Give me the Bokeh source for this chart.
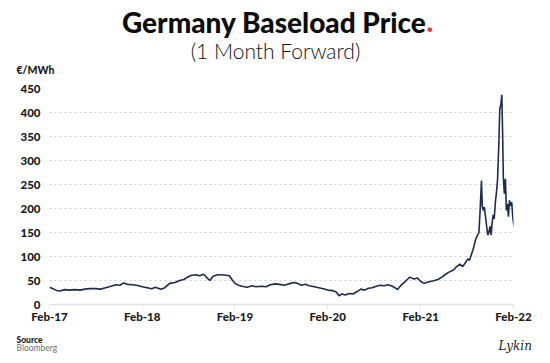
import pandas as pd
from bokeh.plotting import figure
from bokeh.layouts import column
from bokeh.models import FixedTicker, DatetimeTickFormatter, Range1d
from bokeh.core.properties import value
from bokeh.embed import file_html
from bokeh.resources import INLINE

# ---------------- data ----------------
dates = [
    "2017-02-01", "2017-02-15", "2017-03-01", "2017-03-15", "2017-04-01", "2017-04-20",
    "2017-05-10", "2017-06-01", "2017-06-20", "2017-07-10", "2017-08-01", "2017-08-20",
    "2017-09-10", "2017-10-01", "2017-10-20", "2017-11-05", "2017-11-20", "2017-12-05",
    "2017-12-25", "2018-01-10", "2018-02-01", "2018-02-20", "2018-03-10", "2018-03-25",
    "2018-04-15", "2018-05-01", "2018-05-20", "2018-06-10", "2018-06-28", "2018-07-15",
    "2018-08-01", "2018-08-15", "2018-09-01", "2018-09-15", "2018-09-30", "2018-10-15",
    "2018-10-25", "2018-11-07", "2018-11-25", "2018-12-10", "2018-12-28", "2019-01-10",
    "2019-01-20", "2019-02-01", "2019-02-15", "2019-03-01", "2019-03-20", "2019-04-10",
    "2019-04-25", "2019-05-15", "2019-06-03", "2019-06-20", "2019-07-10", "2019-07-25",
    "2019-08-15", "2019-09-01", "2019-09-20", "2019-10-05", "2019-10-20", "2019-11-05",
    "2019-11-20", "2019-12-10", "2019-12-28", "2020-01-15", "2020-02-01", "2020-02-20",
    "2020-03-05", "2020-03-17", "2020-03-28", "2020-04-10", "2020-04-25", "2020-05-10",
    "2020-05-27", "2020-06-10", "2020-06-25", "2020-07-10", "2020-07-25", "2020-08-10",
    "2020-08-25", "2020-09-10", "2020-09-25", "2020-10-12", "2020-10-25", "2020-11-02",
    "2020-11-15", "2020-11-28", "2020-12-10", "2020-12-20", "2021-01-05", "2021-01-19",
    "2021-02-01", "2021-02-15", "2021-03-01", "2021-03-20", "2021-04-10", "2021-04-25",
    "2021-05-10", "2021-05-25", "2021-06-10", "2021-06-20", "2021-07-05", "2021-07-16",
    "2021-07-28", "2021-08-05", "2021-08-12", "2021-08-20", "2021-08-28", "2021-09-05",
    "2021-09-12", "2021-09-18", "2021-09-23", "2021-09-28", "2021-10-01", "2021-10-05",
    "2021-10-09", "2021-10-14", "2021-10-19", "2021-10-23", "2021-10-27", "2021-11-01",
    "2021-11-05", "2021-11-09", "2021-11-13", "2021-11-17", "2021-11-22", "2021-11-26",
    "2021-11-30", "2021-12-05", "2021-12-09", "2021-12-13", "2021-12-17", "2021-12-20",
    "2021-12-23", "2021-12-27", "2021-12-31", "2022-01-04", "2022-01-08", "2022-01-12",
    "2022-01-16", "2022-01-21", "2022-01-25", "2022-01-29", "2022-02-03",
]
prices = [
    36, 33, 29, 28, 31, 30,
    31, 30, 32, 33, 33, 32,
    35, 38, 41, 40, 45, 42,
    41, 40, 37, 35, 33, 36,
    32, 35, 44, 46, 50, 52,
    58, 61, 62, 60, 63, 55,
    50, 59, 62, 62, 61, 60,
    52, 44, 40, 38, 36, 39,
    37, 38, 37, 41, 43, 42,
    40, 43, 46, 44, 40, 42,
    39, 37, 35, 33, 30, 29,
    26, 18, 22, 20, 23, 22,
    27, 32, 30, 34, 35, 38,
    40, 39, 41, 38, 34, 31,
    40, 46, 52, 57, 53, 55,
    48, 44, 47, 49, 52, 57,
    63, 68, 72, 78, 84, 79,
    88, 95, 92, 105, 118, 136,
    144, 150, 200, 258, 205, 196,
    203, 183, 160, 145, 150, 163,
    145, 170, 187, 178, 215, 234,
    258, 330, 408, 415, 437, 362,
    265, 231, 262, 196, 210, 183,
    217, 205, 213, 183, 163,
]
tick_dates = ["2017-02-01", "2018-02-01", "2019-02-01", "2020-02-01", "2021-02-01", "2022-02-01"]
tick_labels = ["Feb-17", "Feb-18", "Feb-19", "Feb-20", "Feb-21", "Feb-22"]
y_ticks = [0, 50, 100, 150, 200, 250, 300, 350, 400, 450]

title_text = "Germany Baseload Price"
title_dot = "."
subtitle_text = "(1 Month Forward)"
unit_text = "€/MWh"
source_head = "Source"
source_text = "Bloomberg"
signature = "Lykin"

FONT = "Lato"
HEAVY = "'Lato Black', Lato"
W = 550
HEAD_H, MAIN_H, FOOT_H = 80, 250, 33


def blank(h):
    f = figure(width=W, height=h, output_backend="svg", toolbar_location=None, tools="",
               x_range=Range1d(0, W), y_range=Range1d(h, 0),
               x_axis_location=None, y_axis_location=None, title_location=None,
               frame_align=False,
               min_border=0, min_border_left=0, min_border_right=0,
               min_border_top=0, min_border_bottom=0)
    f.outline_line_color = None
    f.grid.visible = False
    f.background_fill_color = "white"
    f.border_fill_color = "white"
    return f


# ---------------- header ----------------
head = blank(HEAD_H)
head.text(x=[426], y=[21], text=[title_text], text_align="right", text_baseline="alphabetic",
          text_font=value(HEAVY), text_font_style="bold", text_font_size=value("28px"),
          text_color="#0d0d0d")
head.text(x=[426], y=[21], text=[title_dot], text_align="left", text_baseline="alphabetic",
          text_font=value(HEAVY), text_font_style="bold", text_font_size=value("28px"),
          text_color="#e03a3e")
head.text(x=[275], y=[49.5], text=[subtitle_text], text_align="center",
          text_baseline="alphabetic", text_font=value("'Lato Light', Lato"),
          text_font_size=value("21px"), text_color="#111111")
head.text(x=[16], y=[69.5], text=[unit_text], text_align="left", text_baseline="alphabetic",
          text_font=value(HEAVY), text_font_style="bold", text_font_size=value("10.5px"),
          text_color="#1a1a1a")

# ---------------- main chart ----------------
x = pd.to_datetime(dates)
tick_ms = [float(pd.Timestamp(d).value // 10**6) for d in tick_dates]

FL, FR, FT, FB = 49, 513, 88, 304  # frame in page pixels
p = figure(width=W, height=MAIN_H, x_axis_type="datetime", output_backend="svg",
           toolbar_location=None, tools="", title_location=None, frame_align=False,
           min_border_left=FL, min_border_right=W - FR,
           min_border_top=FT - HEAD_H, min_border_bottom=HEAD_H + MAIN_H - FB)
p.x_range = Range1d(tick_ms[0], tick_ms[-1])
p.y_range = Range1d(0, 450)
p.outline_line_color = None
p.background_fill_color = "white"
p.border_fill_color = "white"

p.line(x, prices, line_color="#1e2a4f", line_width=1.6)

xa = p.xaxis[0]
xa.ticker = FixedTicker(ticks=tick_ms)
xa.formatter = DatetimeTickFormatter(days="%b-%y", months="%b-%y", years="%b-%y",
                                     hours="%b-%y", minutes="%b-%y")
xa.major_label_overrides = {t: l for t, l in zip(tick_ms, tick_labels)}
xa.axis_line_color = "#e3e3e3"
xa.axis_line_width = 1.5
xa.major_tick_line_color = "#e3e3e3"
xa.major_tick_out = 4
xa.major_tick_in = 0
xa.minor_tick_line_color = None
xa.major_label_standoff = 1
xa.major_label_text_font = HEAVY
xa.major_label_text_font_style = "bold"
xa.major_label_text_font_size = "11.5px"
xa.major_label_text_color = "#1a1a1a"

ya = p.yaxis[0]
ya.ticker = FixedTicker(ticks=y_ticks)
ya.axis_line_color = None
ya.major_tick_line_color = None
ya.minor_tick_line_color = None
ya.major_tick_out = 0
ya.major_tick_in = 0
ya.major_label_standoff = 9
ya.major_label_text_font = HEAVY
ya.major_label_text_font_style = "bold"
ya.major_label_text_font_size = "11.5px"
ya.major_label_text_color = "#1a1a1a"

p.xgrid.grid_line_color = None
p.ygrid.grid_line_color = "#cfcfcf"
p.ygrid.grid_line_dash = "2 3"
p.ygrid.grid_line_width = 1

# ---------------- footer ----------------
foot = blank(FOOT_H)
F0 = HEAD_H + MAIN_H
foot.text(x=[16], y=[339 - F0], text=[source_head], text_align="left",
          text_baseline="alphabetic", text_font=value(HEAVY), text_font_style="bold",
          text_font_size=value("8.5px"), text_color="#1a1a1a")
foot.text(x=[16], y=[347.5 - F0], text=[source_text], text_align="left",
          text_baseline="alphabetic", text_font=value(FONT),
          text_font_size=value("8.5px"), text_color="#707070")
foot.text(x=[498], y=[345 - F0], text=[signature], text_align="left",
          text_baseline="alphabetic", text_font=value("DejaVu Serif"),
          text_font_style="italic", text_font_size=value("12px"), text_color="#222222")

layout = column(head, p, foot, spacing=0)
open("out.html", "w").write(file_html(layout, INLINE))
